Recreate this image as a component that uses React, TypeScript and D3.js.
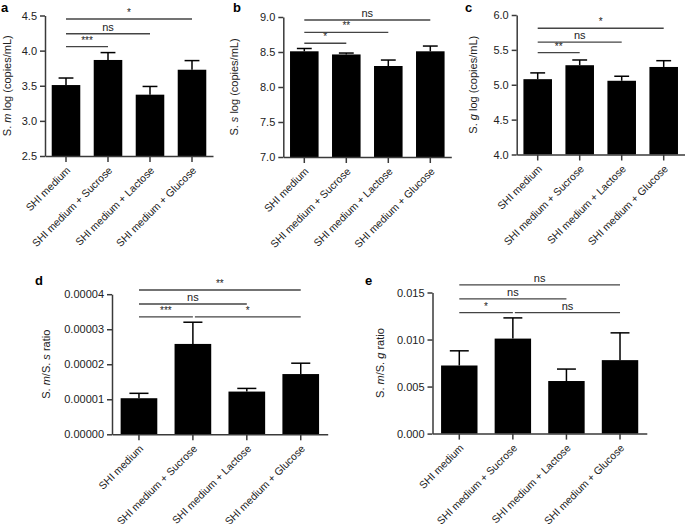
import React, { useRef, useEffect } from 'react';
import * as d3 from 'd3';

const categories = ['SHI medium', 'SHI medium + Sucrose', 'SHI medium + Lactose', 'SHI medium + Glucose'];

// a: S. m log (copies/mL)
const smMeans = [3.51, 3.867, 3.373, 3.728];
const smSem = [0.10, 0.105, 0.117, 0.13];
const smTicks = [2.5, 3.0, 3.5, 4.0, 4.5];
const smSig = [
    { from: 0, to: 1, y: 4.056, label: '***' },
    { from: 0, to: 2, y: 4.24, label: 'ns' },
    { from: 0, to: 3, y: 4.45, label: '*' },
];

// b: S. s log (copies/mL)
const ssMeans = [8.51, 8.465, 8.30, 8.51];
const ssSem = [0.04, 0.02, 0.085, 0.075];
const ssTicks = [7.0, 7.5, 8.0, 8.5, 9.0];
const ssSig = [
    { from: 0, to: 1, y: 8.625, label: '*' },
    { from: 0, to: 2, y: 8.78, label: '**' },
    { from: 0, to: 3, y: 8.957, label: 'ns' },
];

// c: S. g log (copies/mL)
const sgMeans = [5.08, 5.28, 5.057, 5.255];
const sgSem = [0.09, 0.075, 0.065, 0.09];
const sgTicks = [4.0, 4.5, 5.0, 5.5, 6.0];
const sgSig = [
    { from: 0, to: 1, y: 5.46, label: '**' },
    { from: 0, to: 2, y: 5.61, label: 'ns' },
    { from: 0, to: 3, y: 5.81, label: '*' },
];

// d: S. m / S. s ratio
const msRatio = [0.0000103, 0.0000258, 0.0000122, 0.0000172];
const msSem = [0.0000014, 0.0000062, 0.0000009, 0.0000031];
const msTicks = [0, 0.00001, 0.00002, 0.00003, 0.00004];
const msSig = [
    { from: 0, to: 1, y: 0.00003354, label: '***' },
    { from: 0, to: 2, y: 0.0000372, label: 'ns' },
    { from: 0, to: 3, y: 0.0000412, label: '**' },
    { from: 1, to: 3, y: 0.00003354, label: '*' },
];

// e: S. m / S. g ratio
const mgRatio = [0.00724, 0.0101, 0.00559, 0.00781];
const mgSem = [0.00156, 0.0022, 0.00127, 0.0029];
const mgTicks = [0, 0.005, 0.01, 0.015];
const mgSig = [
    { from: 0, to: 1, y: 0.01285, label: '*' },
    { from: 0, to: 2, y: 0.01432, label: 'ns' },
    { from: 0, to: 3, y: 0.01582, label: 'ns' },
    { from: 1, to: 3, y: 0.01285, label: 'ns' },
];

const FONT = "Arial, 'Liberation Sans', sans-serif";

const panels = [
    { letter: 'a', means: smMeans, sem: smSem, ticks: smTicks, fmt: '.1f', sig: smSig,
      title: [['S. ', false], ['m', true], [' log (copies/mL)', false]],
      x0: 45, x1: 213, yTop: 15.5, yBottom: 156, titleX: 11, letterX: 1, letterY: 12 },
    { letter: 'b', means: ssMeans, sem: ssSem, ticks: ssTicks, fmt: '.1f', sig: ssSig,
      title: [['S. ', false], ['s', true], [' log (copies/mL)', false]],
      x0: 283.3, x1: 451.3, yTop: 17, yBottom: 157, titleX: 238, letterX: 233, letterY: 12 },
    { letter: 'c', means: sgMeans, sem: sgSem, ticks: sgTicks, fmt: '.1f', sig: sgSig,
      title: [['S. ', false], ['g', true], [' log (copies/mL)', false]],
      x0: 516.7, x1: 684.7, yTop: 15, yBottom: 154.5, titleX: 477, letterX: 465, letterY: 12 },
    { letter: 'd', means: msRatio, sem: msSem, ticks: msTicks, fmt: '.5f', sig: msSig,
      title: [['S. ', false], ['m', true], ['/S. ', false], ['s', true], [' ratio', false]],
      x0: 112, x1: 327.7, yTop: 294.2, yBottom: 434.3, titleX: 50, letterX: 35, letterY: 285 },
    { letter: 'e', means: mgRatio, sem: mgSem, ticks: mgTicks, fmt: '.3f', sig: mgSig,
      title: [['S. ', false], ['m', true], ['/S. ', false], ['g', true], [' ratio', false]],
      x0: 432.5, x1: 646.8, yTop: 292.5, yBottom: 433.6, titleX: 384, letterX: 365, letterY: 285 },
];

const App = () => {
    const width = 685;
    const height = 524;
    const container = useRef(null);

    useEffect(() => {
        document.body.style.margin = '0';
        if (!container.current) return;
        const svg = d3.select(container.current);
        svg.selectAll('*').remove();

        panels.forEach(p => {
            const g = svg.append('g');
            const ticks = p.ticks;
            const x = d3.scaleBand()
                .domain(categories)
                .range([p.x0, p.x1])
                .paddingInner(0.32)
                .paddingOuter(0.16);
            const y = d3.scaleLinear()
                .domain([ticks[0], ticks[ticks.length - 1]])
                .range([p.yBottom, p.yTop]);
            const bw = x.bandwidth();
            const cx = i => x(categories[i]) + bw / 2;

            // bars
            g.selectAll('rect.bar')
                .data(p.means)
                .join('rect')
                .attr('x', (d, i) => x(categories[i]))
                .attr('y', d => y(d))
                .attr('width', bw)
                .attr('height', d => y(ticks[0]) - y(d))
                .attr('fill', '#000');

            // error bars, upper half only
            p.means.forEach((m, i) => {
                const top = y(m + p.sem[i]);
                g.append('line')
                    .attr('x1', cx(i)).attr('x2', cx(i))
                    .attr('y1', y(m)).attr('y2', top)
                    .attr('stroke', '#000').attr('stroke-width', 1.5);
                g.append('line')
                    .attr('x1', cx(i) - bw * 0.26).attr('x2', cx(i) + bw * 0.26)
                    .attr('y1', top).attr('y2', top)
                    .attr('stroke', '#000').attr('stroke-width', 1.5);
            });

            const yAxis = g.append('g')
                .attr('transform', `translate(${p.x0},0)`)
                .call(d3.axisLeft(y).tickValues(ticks).tickFormat(d3.format(p.fmt)).tickSize(5).tickSizeOuter(0).tickPadding(3));

            const xAxis = g.append('g')
                .attr('transform', `translate(0,${p.yBottom})`)
                .call(d3.axisBottom(x).tickSize(6).tickSizeOuter(0));
            xAxis.selectAll('text')
                .attr('x', 0).attr('y', 0).attr('dy', 0)
                .attr('transform', 'translate(5,15) rotate(-45)')
                .style('text-anchor', 'end')
                .attr('font-size', 10.5);

            [yAxis, xAxis].forEach(a => {
                a.attr('font-family', FONT);
                a.selectAll('path,line').attr('stroke', '#3a3a3a').attr('stroke-width', 1.5);
                a.selectAll('text').attr('fill', '#222');
            });
            yAxis.selectAll('text').attr('font-size', 11);

            // significance lines
            p.sig.forEach(s => {
                const ly = y(s.y);
                const xa = cx(s.from) + (s.from > 0 ? 2 : 0);
                const xb = cx(s.to);
                g.append('line')
                    .attr('x1', xa).attr('x2', xb)
                    .attr('y1', ly).attr('y2', ly)
                    .attr('stroke', '#444').attr('stroke-width', 1.3);
                g.append('text')
                    .attr('x', (xa + xb) / 2)
                    .attr('y', ly - 3)
                    .attr('text-anchor', 'middle')
                    .attr('font-family', FONT)
                    .attr('font-size', s.label === 'ns' ? 11 : 10)
                    .attr('fill', '#222')
                    .text(s.label);
            });

            const title = g.append('text')
                .attr('transform', `translate(${p.titleX},${(p.yTop + p.yBottom) / 2}) rotate(-90)`)
                .attr('text-anchor', 'middle')
                .attr('font-family', FONT)
                .attr('font-size', 11)
                .attr('fill', '#222');
            p.title.forEach(([t, it]) => {
                title.append('tspan').style('font-style', it ? 'italic' : 'normal').text(t);
            });

            g.append('text')
                .attr('x', p.letterX).attr('y', p.letterY)
                .attr('font-family', FONT)
                .attr('font-weight', 'bold')
                .attr('font-size', 13)
                .attr('fill', '#000')
                .text(p.letter);
        });
    }, []);

    return (
        <svg ref={container} width={width} height={height}
            style={{ position: 'absolute', left: 0, top: 0, background: '#fff' }} />
    );
};

export default App;
